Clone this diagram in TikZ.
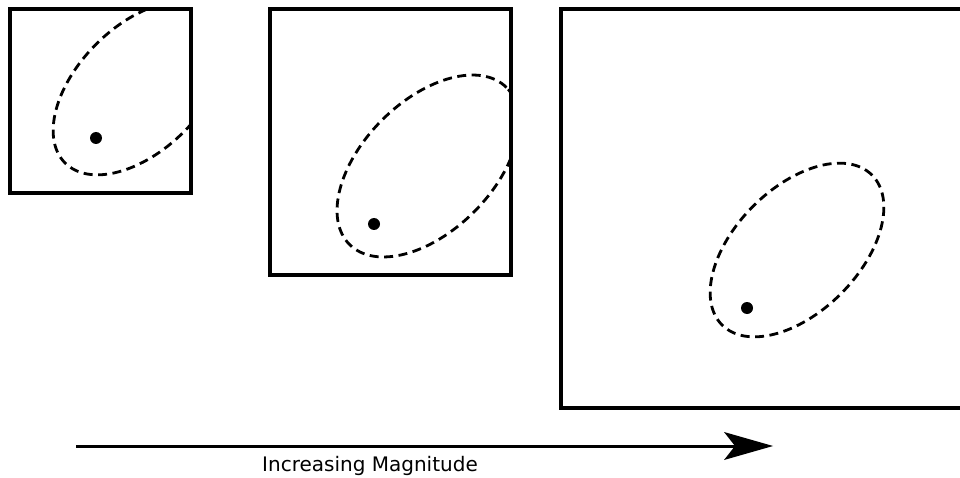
\documentclass[tikz,border=0pt]{standalone}
\usepackage{fontspec}
\setmainfont{DejaVu Sans}
\begin{document}
\begin{tikzpicture}[x=1pt,y=1pt,
  frame/.style={line width=3.3pt, line cap=rect},
  contour/.style={line width=2.8pt, dash pattern=on 9pt off 5.5pt},
  dotmark/.style={fill=black},
  axisline/.style={line width=3pt}]
\useasboundingbox (0,0) rectangle (960,477);
% box 1
\draw[frame] (10,468) rectangle (191,284);
\begin{scope}
  \clip (10,468) rectangle (191,284);
  \draw[contour, rotate around={45:(140,389)}] (140,389) ellipse [x radius=106, y radius=62];
\end{scope}
\fill[dotmark] (96,339) circle (6);
% box 2
\draw[frame] (270,468) rectangle (511,202);
\begin{scope}
  \clip (270,468) rectangle (511,202);
  \draw[contour, rotate around={45:(428,311)}] (428,311) ellipse [x radius=111, y radius=65];
\end{scope}
\fill[dotmark] (374,253) circle (6);
% box 3 (cut at right edge)
\draw[frame] (962,468) -- (561,468) -- (561,69) -- (962,69);
\draw[contour, rotate around={45:(797,227)}] (797,227) ellipse [x radius=106, y radius=62];
\fill[dotmark] (747,169) circle (6);
% arrow
\coordinate (s) at (76,31);
\coordinate (e) at (735,31);
\coordinate (tip) at (773,31);
\draw[axisline] (s) -- (e);
\fill (tip) -- (724,45) -- (735,31) -- (724,17) -- cycle;
\node[anchor=base, inner sep=0pt, font=\fontsize{20}{24}\selectfont] (lbl) at (370,6) {Increasing Magnitude};
\end{tikzpicture}
\end{document}
